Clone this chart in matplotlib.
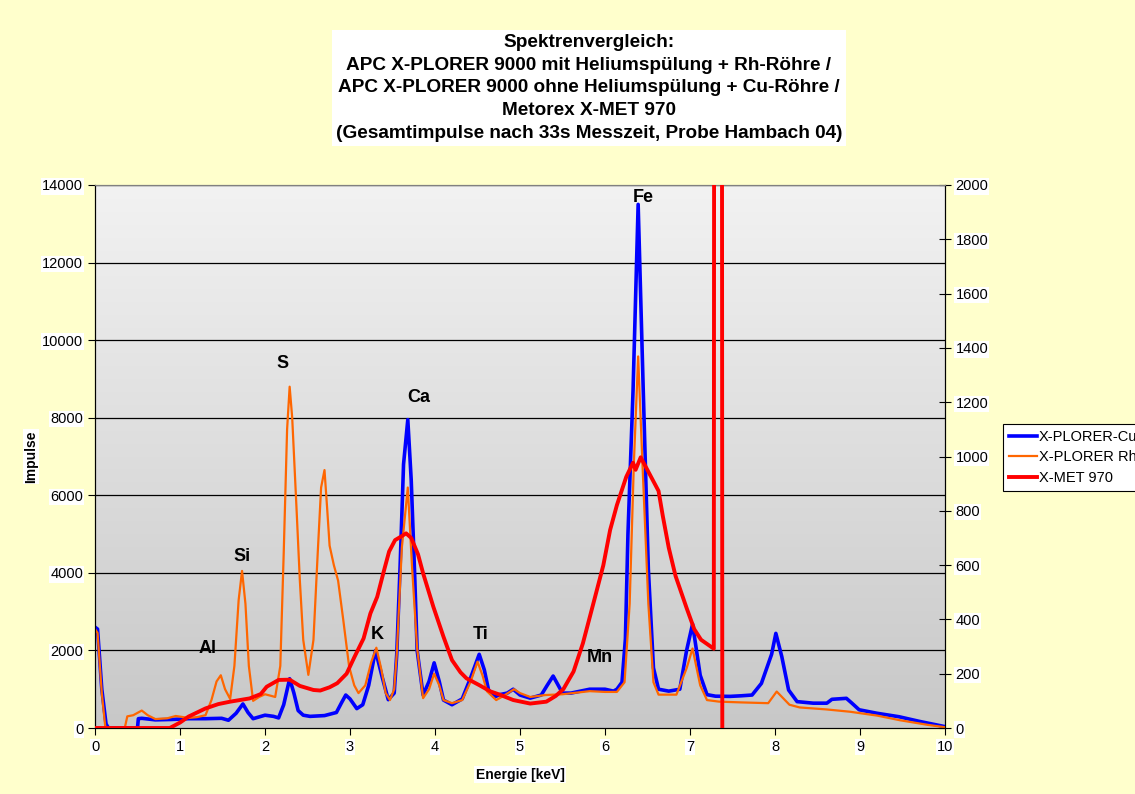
import numpy as np
import matplotlib
matplotlib.use("Agg")
import matplotlib.pyplot as plt

plt.rcParams['font.family'] = ['Liberation Sans', 'DejaVu Sans']

# X-PLORER-Cu (left axis)
cu_x = [0, 0.03, 0.08, 0.13, 0.16, 0.5, 0.51, 0.55, 0.71, 0.9, 1.1, 1.3, 1.49, 1.57, 1.66, 1.74, 1.8, 1.86,
        2.0, 2.1, 2.16, 2.22, 2.29, 2.34, 2.39, 2.45, 2.53, 2.7, 2.84, 2.9, 2.95, 3.0, 3.08, 3.15, 3.22, 3.3,
        3.38, 3.45, 3.52, 3.55, 3.59, 3.63, 3.68, 3.72, 3.76, 3.79, 3.86, 3.93, 3.99, 4.05, 4.1, 4.2, 4.32,
        4.42, 4.52, 4.58, 4.63, 4.7, 4.76, 4.85, 4.92, 5.0, 5.12, 5.25, 5.32, 5.39, 5.45, 5.5, 5.6, 5.82,
        6.0, 6.1, 6.14, 6.2, 6.24, 6.27, 6.33, 6.39, 6.45, 6.51, 6.57, 6.63, 6.75, 6.88, 6.96, 7.03, 7.12,
        7.2, 7.3, 7.47, 7.6, 7.73, 7.84, 7.96, 8.01, 8.08, 8.16, 8.26, 8.45, 8.61, 8.67, 8.84, 8.9, 8.99,
        9.2, 9.46, 9.7, 10.0]
cu_y = [2600, 2550, 1000, 100, 0, 0, 240, 250, 210, 220, 240, 240, 250, 200, 380, 620, 400, 240,
        330, 300, 260, 600, 1270, 900, 450, 330, 300, 320, 400, 650, 850, 750, 500, 600, 1100, 2000,
        1300, 730, 900, 1900, 4200, 6800, 7950, 6400, 4000, 2000, 850, 1200, 1680, 1200, 720, 600, 750,
        1300, 1900, 1500, 980, 800, 860, 900, 1000, 850, 770, 850, 1100, 1340, 1100, 900, 900, 1000,
        1000, 950, 1000, 1180, 2300, 5000, 8700, 13500, 8700, 4100, 1550, 1000, 950, 1000, 2000, 2680, 1360,
        860, 820, 815, 830, 850, 1150, 1900, 2440, 1840, 980, 680, 640, 640, 740, 765, 650, 470,
        380, 290, 170, 35]

# X-PLORER Rh (left axis)
rh_x = [0, 0.03, 0.08, 0.12, 0.14, 0.35, 0.38, 0.45, 0.55, 0.62, 0.71, 0.85, 0.95, 1.1, 1.2, 1.3, 1.37,
        1.43, 1.48, 1.53, 1.59, 1.64, 1.69, 1.73, 1.77, 1.81, 1.86, 1.93, 2.0, 2.07, 2.12, 2.18, 2.22,
        2.26, 2.29, 2.32, 2.37, 2.41, 2.45, 2.51, 2.57, 2.62, 2.66, 2.70, 2.73, 2.76, 2.81, 2.86, 2.92,
        2.99, 3.05, 3.1, 3.18, 3.25, 3.31, 3.37, 3.42, 3.47, 3.52, 3.55, 3.61, 3.68, 3.73, 3.79, 3.86,
        3.93, 3.99, 4.05, 4.1, 4.2, 4.32, 4.42, 4.5, 4.56, 4.61, 4.72, 4.8, 4.93, 5.0, 5.12, 5.3, 5.5,
        5.82, 6.0, 6.14, 6.23, 6.29, 6.34, 6.39, 6.44, 6.51, 6.57, 6.63, 6.84, 6.96, 7.03, 7.12, 7.2,
        7.34, 7.6, 7.92, 8.02, 8.17, 8.29, 8.6, 8.88, 9.2, 9.47, 9.8, 10.0]
rh_y = [2550, 2450, 900, 50, 0, 0, 300, 330, 450, 330, 230, 250, 310, 260, 280, 330, 720,
        1200, 1360, 1000, 750, 1600, 3300, 4050, 3200, 1600, 700, 800, 870, 830, 800, 1600, 4500,
        7700, 8800, 8000, 5700, 3800, 2270, 1370, 2270, 4500, 6200, 6650, 5700, 4700, 4200, 3800, 2800,
        1580, 1100, 900, 1100, 1700, 2070, 1500, 900, 720, 1000, 1900, 4650, 6200, 4150, 2050, 770,
        1000, 1400, 1100, 720, 640, 720, 1200, 1710, 1350, 950, 720, 820, 1000, 900, 800, 850, 870,
        950, 930, 930, 1180, 3200, 6850, 9580, 6850, 3200, 1180, 860, 860, 1540, 2050, 1100, 720,
        680, 660, 640, 940, 600, 530, 480, 420, 320, 200, 80, 20]

# X-MET 970 (right axis)
met_x = [0, 0.88, 1.0, 1.1, 1.3, 1.45, 1.59, 1.82, 1.95, 2.02, 2.16, 2.29, 2.41, 2.57, 2.65, 2.76, 2.85,
         2.96, 3.05, 3.16, 3.24, 3.32, 3.4, 3.46, 3.53, 3.6, 3.66, 3.72, 3.8, 3.86, 3.98, 4.1, 4.2, 4.3,
         4.37, 4.52, 4.65, 4.76, 4.92, 5.12, 5.31, 5.42, 5.51, 5.63, 5.74, 5.86, 5.98, 6.06, 6.14, 6.25,
         6.33, 6.36, 6.42, 6.52, 6.63, 6.68, 6.75, 6.83, 6.96, 7.05, 7.13, 7.28, 7.285, 7.375, 7.38]
met_y = [0, 0, 20, 42, 72, 88, 97, 109, 125, 152, 177, 178, 155, 140, 138, 150, 165,
         200, 260, 330, 422, 483, 580, 650, 692, 705, 717, 700, 640, 570, 447, 336, 250, 205,
         183, 158, 135, 123, 103, 90, 97, 118, 143, 208, 312, 455, 599, 729, 821, 925,
         977, 951, 997, 938, 873, 781, 664, 560, 442, 364, 325, 292, 3000, 3000, 0]

# element labels (x in keV, y on left axis)
elements = ['Al', 'Si', 'S', 'K', 'Ca', 'Ti', 'Mn', 'Fe']
elem_x = [1.32, 1.73, 2.21, 3.32, 3.81, 4.54, 5.94, 6.45]
elem_y = [2040, 4410, 9410, 2420, 8530, 2420, 1830, 13690]

title_text = ("Spektrenvergleich:\n"
              "APC X-PLORER 9000 mit Heliumspülung + Rh-Röhre /\n"
              "APC X-PLORER 9000 ohne Heliumspülung + Cu-Röhre /\n"
              "Metorex X-MET 970\n"
              "(Gesamtimpulse nach 33s Messzeit, Probe Hambach 04)")

fig = plt.figure(figsize=(11.35, 7.94), dpi=100, facecolor='#FFFFCC')
ax = fig.add_axes([95 / 1135, 1 - 728 / 794, 850 / 1135, 543 / 794])

# gray gradient plot area
grad = np.linspace(0, 1, 256).reshape(-1, 1)
ax.imshow(grad, cmap=matplotlib.colors.LinearSegmentedColormap.from_list('g', ['#C8C8C8', '#F2F2F2']),
          origin='lower', extent=(0, 1, 0, 1), transform=ax.transAxes, aspect='auto', zorder=0)

for y in range(2000, 14001, 2000):
    ax.axhline(y, color='black', lw=0.9, zorder=1)

l1, = ax.plot(cu_x, cu_y, color='#0000FF', lw=2.6, zorder=3, label='X-PLORER-Cu')
l2, = ax.plot(rh_x, rh_y, color='#FF6600', lw=1.6, zorder=4, label='X-PLORER Rh-Röhre')
ax.set_xlim(0, 10)
ax.set_ylim(0, 14000)
ax.set_xticks(range(0, 11))
ax.set_yticks(range(0, 14001, 2000))
ax.tick_params(axis='both', labelsize=10.5, direction='out', length=5, width=0.8)

ax2 = ax.twinx()
l3, = ax2.plot(met_x, met_y, color='#FF0000', lw=2.8, zorder=5, label='X-MET 970')
ax2.set_ylim(0, 2000)
ax2.set_yticks(range(0, 2001, 200))
ax2.tick_params(axis='y', labelsize=10.5, direction='inout', length=8, width=0.8)

for sp in ['left', 'right', 'bottom']:
    ax.spines[sp].set_color('black')
    ax2.spines[sp].set_color('black')
ax.spines['top'].set_color('#808080')
ax2.spines['top'].set_color('#808080')

for lab in ax.get_xticklabels() + ax.get_yticklabels() + ax2.get_yticklabels():
    lab.set_bbox(dict(facecolor='white', edgecolor='none', pad=0.8))

for name, ex, ey in zip(elements, elem_x, elem_y):
    ax.text(ex, ey, name, ha='center', va='center', fontsize=13, fontweight='bold', zorder=6)

ax.set_xlabel('Energie [keV]', fontsize=10, fontweight='bold', labelpad=10,
              bbox=dict(facecolor='white', edgecolor='none', pad=1))
ax.set_ylabel('Impulse', fontsize=10, fontweight='bold', labelpad=3,
              bbox=dict(facecolor='white', edgecolor='none', pad=1))

fig.text(589 / 1135, 1 - 88 / 794, title_text, ha='center', va='center', fontsize=13.7,
         fontweight='bold', linespacing=1.45,
         bbox=dict(facecolor='white', edgecolor='none', pad=3))

leg = fig.legend(handles=[l1, l2, l3], loc='upper left', bbox_to_anchor=(1003 / 1135, 1 - 424 / 794),
                 fontsize=10.5, frameon=True, fancybox=False, borderaxespad=0, handlelength=1.9,
                 handletextpad=0.15, borderpad=0.4, labelspacing=0.45)
leg.get_frame().set_edgecolor('black')
leg.get_frame().set_linewidth(0.8)
leg.get_frame().set_facecolor('white')
leg.get_frame().set_alpha(1)

fig.savefig('out.png', dpi=100, facecolor=fig.get_facecolor())
